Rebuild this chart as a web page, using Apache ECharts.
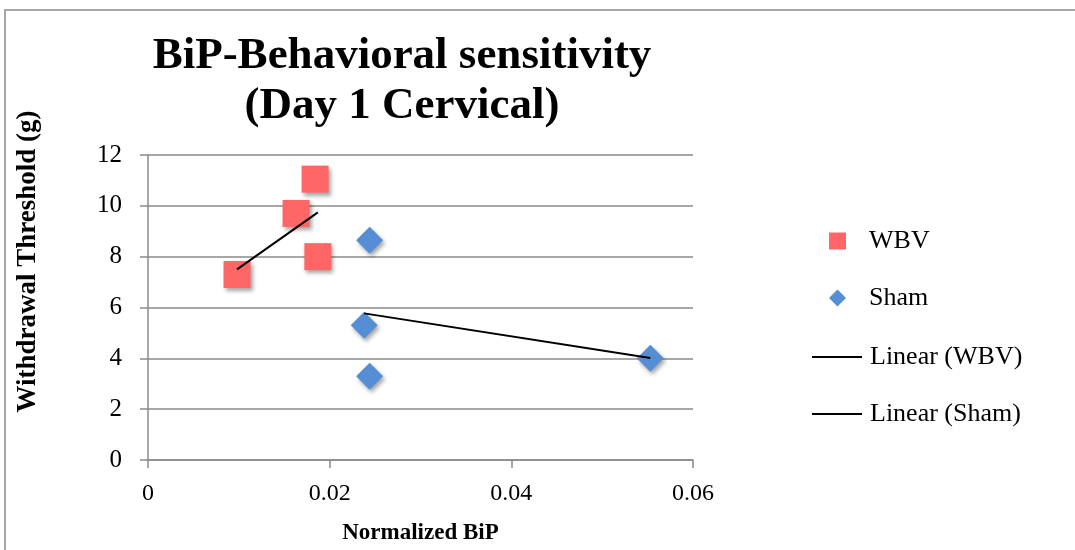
<!DOCTYPE html>
<html>
<head>
<meta charset="utf-8">
<script src="https://cdn.jsdelivr.net/npm/echarts@6/dist/echarts.min.js"></script>
<style>
  html, body { margin: 0; padding: 0; background: #fff; }
  #chart { width: 1075px; height: 550px; }
</style>
</head>
<body>
<div id="chart"></div>
<script>
// 数据：Normalized BiP (x) / Withdrawal Threshold (y)
const wbvX = [0.0098, 0.0163, 0.0184, 0.0187];
const wbvY = [7.3, 9.7, 11.05, 8.0];
const shamX = [0.0244, 0.0238, 0.0244, 0.0553];
const shamY = [8.65, 5.3, 3.3, 4.0];
const xTicks = [0, 0.02, 0.04, 0.06];
const yTicks = [0, 2, 4, 6, 8, 10, 12];

// 最小二乘拟合，画在数据 x 的范围内（趋势线）
function linearFit(xs, ys) {
    const n = xs.length;
    const mx = xs.reduce((a, b) => a + b, 0) / n;
    const my = ys.reduce((a, b) => a + b, 0) / n;
    let sxy = 0, sxx = 0;
    for (let i = 0; i < n; i++) {
        sxy += (xs[i] - mx) * (ys[i] - my);
        sxx += (xs[i] - mx) * (xs[i] - mx);
    }
    const k = sxy / sxx;
    const x0 = Math.min(...xs), x1 = Math.max(...xs);
    return [[x0, my + k * (x0 - mx)], [x1, my + k * (x1 - mx)]];
}

const serif = '"Liberation Serif", "DejaVu Serif", serif';
const gray = '#8a8a8a';
const shadow = { shadowBlur: 4, shadowOffsetX: 2, shadowOffsetY: 3, shadowColor: 'rgba(0,0,0,0.35)' };

const chart = echarts.init(document.getElementById('chart'));
chart.setOption({
    animation: false,
    backgroundColor: '#fff',
    title: {
        text: 'BiP-Behavioral sensitivity\n(Day 1 Cervical)',
        left: 397,
        top: 26,
        textAlign: 'center',
        textStyle: { fontFamily: serif, fontWeight: 'bold', fontSize: 45, lineHeight: 50, color: '#000' }
    },
    graphic: [{
        type: 'rect',
        shape: { x: 5, y: 10, width: 1200, height: 700 },
        style: { fill: 'none', stroke: gray, lineWidth: 1.5 },
        silent: true
    }],
    legend: [
        {
            orient: 'vertical',
            left: 829,
            top: 228,
            padding: 0,
            itemWidth: 17,
            itemHeight: 17,
            itemGap: 31,
            data: ['WBV', 'Sham'],
            textStyle: { fontFamily: serif, fontSize: 26, lineHeight: 26, color: '#000', padding: [0, 0, 0, 18] }
        },
        {
            orient: 'vertical',
            left: 812,
            top: 344,
            padding: 0,
            itemWidth: 50,
            itemHeight: 2,
            itemGap: 31,
            data: [{ name: 'Linear (WBV)', icon: 'rect' }, { name: 'Linear (Sham)', icon: 'rect' }],
            textStyle: { fontFamily: serif, fontSize: 26, lineHeight: 26, color: '#000', padding: [0, 0, 0, 3] }
        }
    ],
    grid: { left: 148, right: 382, top: 155, bottom: 89 },
    xAxis: {
        type: 'value',
        min: 0,
        max: 0.06,
        interval: 0.02,
        name: 'Normalized BiP',
        nameLocation: 'middle',
        nameGap: 62,
        nameTextStyle: { fontFamily: serif, fontWeight: 'bold', fontSize: 23, color: '#000' },
        axisLine: { show: true, lineStyle: { color: gray, width: 1.5 } },
        axisTick: { show: true, length: 8, lineStyle: { color: gray, width: 1.5 } },
        splitLine: { show: false },
        axisLabel: {
            margin: 22,
            fontFamily: serif, fontSize: 24, color: '#000',
            formatter: v => xTicks.includes(+v.toFixed(2)) ? String(+v.toFixed(2)) : ''
        }
    },
    yAxis: {
        type: 'value',
        min: 0,
        max: 12,
        interval: 2,
        name: 'Withdrawal Threshold (g)',
        nameLocation: 'middle',
        nameRotate: 90,
        nameGap: 106,
        nameTextStyle: { fontFamily: serif, fontWeight: 'bold', fontSize: 27, color: '#000', padding: [0, 0, 0, 92] },
        axisLine: { show: true, lineStyle: { color: gray, width: 1.5 } },
        axisTick: { show: true, length: 8, lineStyle: { color: gray, width: 1.5 } },
        splitLine: { show: true, lineStyle: { color: gray, width: 1.5 } },
        axisLabel: {
            margin: 26,
            fontFamily: serif, fontSize: 25, color: '#000',
            formatter: v => yTicks.includes(v) ? String(v) : ''
        }
    },
    series: [
        {
            name: 'WBV',
            type: 'scatter',
            symbol: 'rect',
            symbolSize: 27,
            itemStyle: Object.assign({ color: '#ff6666', opacity: 1 }, shadow),
            data: wbvX.map((x, i) => [x, wbvY[i]]),
            z: 3
        },
        {
            name: 'Sham',
            type: 'scatter',
            symbol: 'diamond',
            symbolSize: 27,
            itemStyle: Object.assign({ color: '#558ed5', opacity: 1 }, shadow),
            data: shamX.map((x, i) => [x, shamY[i]]),
            z: 3
        },
        {
            name: 'Linear (WBV)',
            type: 'line',
            symbol: 'none',
            lineStyle: { color: '#000', width: 2 },
            itemStyle: { color: '#000' },
            data: linearFit(wbvX, wbvY),
            z: 4
        },
        {
            name: 'Linear (Sham)',
            type: 'line',
            symbol: 'none',
            lineStyle: { color: '#000', width: 2 },
            itemStyle: { color: '#000' },
            data: linearFit(shamX, shamY),
            z: 4
        }
    ]
});
</script>
</body>
</html>
